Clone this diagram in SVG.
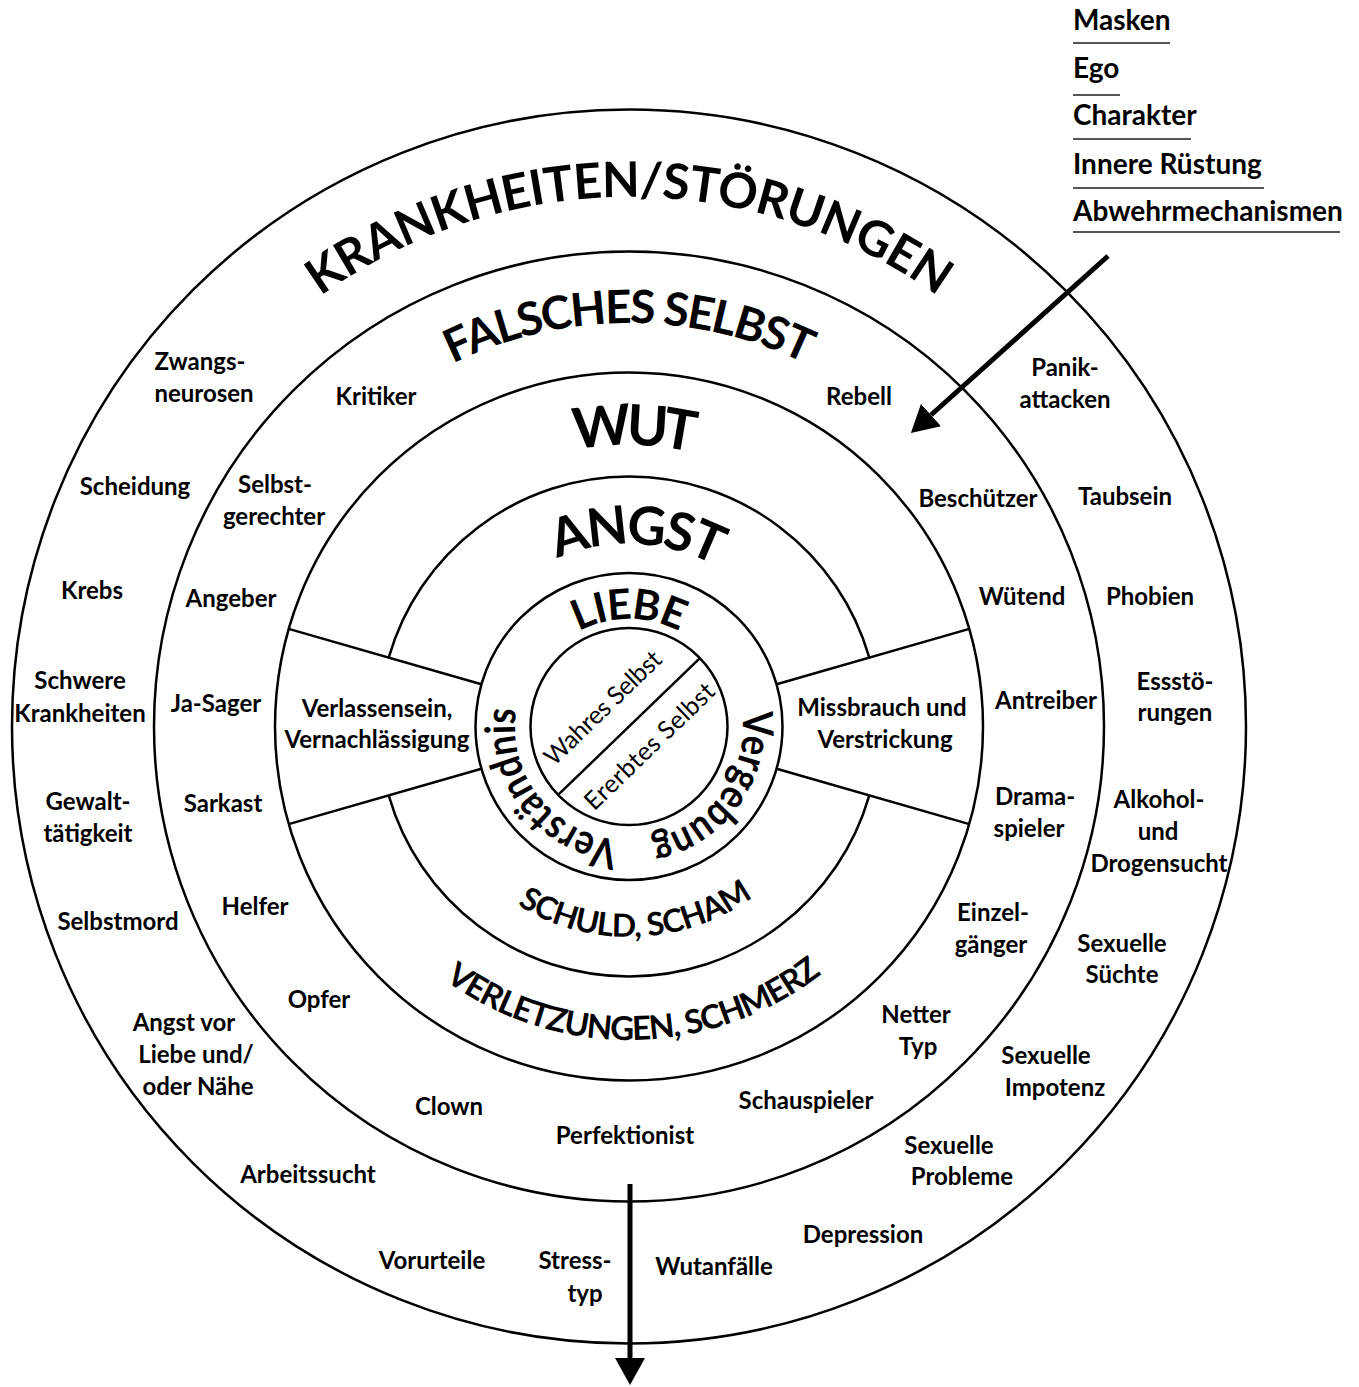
<svg xmlns="http://www.w3.org/2000/svg" width="1359" height="1387" viewBox="0 0 1359 1387">
<style>
.ring{fill:none;stroke:#000;stroke-width:2.5}
.ln{fill:none;stroke:#000;stroke-width:2.5}
text{font-family:Lato,"Noto Sans","DejaVu Sans",sans-serif;fill:#000}
.lb{font-size:24px;font-weight:700;text-anchor:middle}
.hd{font-weight:700;text-anchor:middle}
.leg{font-size:28px;font-weight:700}
.ul{stroke:#555;stroke-width:2}
.thin{font-size:25px;font-weight:400;text-anchor:middle}
.arr{stroke:#000;stroke-width:5;fill:none}
</style>
<defs>
<path id="pK" d="M99.5 726.5 A529.5 529.5 0 0 1 1158.5 726.5"/>
<path id="pF" d="M225.5 726.5 A403.5 403.5 0 0 1 1032.5 726.5"/>
<path id="pW" d="M347.5 726.5 A281.5 281.5 0 0 1 910.5 726.5"/>
<path id="pA" d="M446.5 726.5 A182.5 182.5 0 0 1 811.5 726.5"/>
<path id="pL" d="M521.5 726.5 A107.5 107.5 0 0 1 736.5 726.5"/>
<path id="pS" d="M418.5 726.5 A210.5 210.5 0 0 0 839.5 726.5"/>
<path id="pV" d="M315.5 726.5 A313.5 313.5 0 0 0 942.5 726.5"/>
<path id="pVg" d="M629 612.5 A114 114 0 0 1 629 840.5"/>
<path id="pVs" d="M629 840.5 A114 114 0 0 1 629 612.5"/>
<marker id="ah" markerUnits="userSpaceOnUse" markerWidth="28" markerHeight="30" refX="0" refY="15" orient="auto"><path d="M0,0 L27,15 L0,30 z" fill="#000"/></marker>
</defs>
<rect width="1359" height="1387" fill="#fff"/>

<g id="circles">
<circle class="ring" cx="629" cy="726.5" r="617"/>
<circle class="ring" cx="629" cy="726.5" r="475"/>
<circle class="ring" cx="629" cy="726.5" r="354"/>
<path class="ring" d="M388.7 657.6 A250 250 0 0 1 869.3 657.6"/>
<path class="ring" d="M388.7 795.4 A250 250 0 0 0 869.3 795.4"/>
<circle class="ring" cx="629" cy="726.5" r="153.5"/>
<circle class="ring" cx="629" cy="726.5" r="98.5"/>
<line class="ln" x1="288.7" y1="628.9" x2="481.4" y2="684.2"/>
<line class="ln" x1="288.7" y1="824.1" x2="481.4" y2="768.8"/>
<line class="ln" x1="969.3" y1="628.9" x2="776.6" y2="684.2"/>
<line class="ln" x1="969.3" y1="824.1" x2="776.6" y2="768.8"/>
<line class="ln" x1="558.1" y1="794.9" x2="699.9" y2="658.1"/>
</g>

<g id="ring-titles">
<text class="hd" font-size="49"><textPath href="#pK" startOffset="50%" textLength="659" lengthAdjust="spacing">KRANKHEITEN/STÖRUNGEN</textPath></text>
<text class="hd" font-size="46"><textPath href="#pF" startOffset="50%" textLength="365" lengthAdjust="spacing">FALSCHES SELBST</textPath></text>
<text class="hd" font-size="56" transform="rotate(1 629 726.5)"><textPath href="#pW" startOffset="50%" textLength="120" lengthAdjust="spacing">WUT</textPath></text>
<text class="hd" font-size="53" transform="rotate(2.5 629 726.5)"><textPath href="#pA" startOffset="50%" textLength="164" lengthAdjust="spacing">ANGST</textPath></text>
<text class="hd" font-size="42"><textPath href="#pL" startOffset="50%" textLength="105" lengthAdjust="spacing">LIEBE</textPath></text>
<text class="hd" font-size="32" transform="rotate(-2 629 726.5)"><textPath href="#pS" startOffset="50%" textLength="250" lengthAdjust="spacing">SCHULD, SCHAM</textPath></text>
<text class="hd" font-size="33" transform="rotate(-1 629 726.5)"><textPath href="#pV" startOffset="50%" textLength="405" lengthAdjust="spacing">VERLETZUNGEN, SCHMERZ</textPath></text>
<text class="hd" font-size="42" transform="rotate(36 629 726.5)"><textPath href="#pVg" startOffset="50%" textLength="172" lengthAdjust="spacingAndGlyphs">Vergebung</textPath></text>
<text class="hd" font-size="42" transform="rotate(-38 629 726.5)"><textPath href="#pVs" startOffset="50%" textLength="186" lengthAdjust="spacingAndGlyphs">Verständnis</textPath></text>
</g>

<g id="core" transform="translate(629 726.5) rotate(-44)">
<text class="thin" x="-6" y="-23" textLength="152" lengthAdjust="spacing">Wahres Selbst</text>
<text class="thin" x="1" y="37" textLength="170" lengthAdjust="spacing">Ererbtes Selbst</text>
</g>

<g id="sectors">
<text class="lb"><tspan x="377" y="717">Verlassensein,</tspan><tspan x="377" y="748">Vernachlässigung</tspan></text>
<text class="lb"><tspan x="882" y="716">Missbrauch und</tspan><tspan x="885" y="748">Verstrickung</tspan></text>
</g>

<g id="masks">
<text class="lb" x="376" y="405">Kritiker</text>
<text class="lb" x="859" y="405">Rebell</text>
<text class="lb"><tspan x="275" y="493">Selbst-</tspan><tspan x="274" y="525">gerechter</tspan></text>
<text class="lb" x="978" y="507">Beschützer</text>
<text class="lb" x="231" y="607">Angeber</text>
<text class="lb" x="1022" y="605">Wütend</text>
<text class="lb" x="216" y="712">Ja-Sager</text>
<text class="lb" x="1046" y="709">Antreiber</text>
<text class="lb" x="223" y="812">Sarkast</text>
<text class="lb"><tspan x="1035" y="805">Drama-</tspan><tspan x="1029" y="837">spieler</tspan></text>
<text class="lb" x="255" y="915">Helfer</text>
<text class="lb"><tspan x="993" y="921">Einzel-</tspan><tspan x="991" y="953">gänger</tspan></text>
<text class="lb" x="319" y="1008">Opfer</text>
<text class="lb"><tspan x="916" y="1023">Netter</tspan><tspan x="918" y="1055">Typ</tspan></text>
<text class="lb" x="449" y="1115">Clown</text>
<text class="lb" x="806" y="1109">Schauspieler</text>
<text class="lb" x="625" y="1144">Perfektionist</text>
</g>

<g id="disorders">
<text class="lb"><tspan x="200" y="370">Zwangs-</tspan><tspan x="204" y="402">neurosen</tspan></text>
<text class="lb"><tspan x="1065" y="376">Panik-</tspan><tspan x="1065" y="408">attacken</tspan></text>
<text class="lb" x="135" y="495">Scheidung</text>
<text class="lb" x="1125" y="505">Taubsein</text>
<text class="lb" x="92" y="599">Krebs</text>
<text class="lb" x="1150" y="605">Phobien</text>
<text class="lb"><tspan x="80" y="689">Schwere</tspan><tspan x="80" y="722">Krankheiten</tspan></text>
<text class="lb"><tspan x="1175" y="690">Essstö-</tspan><tspan x="1175" y="721">rungen</tspan></text>
<text class="lb"><tspan x="88" y="810">Gewalt-</tspan><tspan x="88" y="842">tätigkeit</tspan></text>
<text class="lb"><tspan x="1159" y="808">Alkohol-</tspan><tspan x="1158" y="840">und</tspan><tspan x="1159" y="872">Drogensucht</tspan></text>
<text class="lb" x="118" y="930">Selbstmord</text>
<text class="lb"><tspan x="1122" y="952">Sexuelle</tspan><tspan x="1122" y="983">Süchte</tspan></text>
<text class="lb"><tspan x="184" y="1031">Angst vor</tspan><tspan x="196" y="1063">Liebe und/</tspan><tspan x="198" y="1095">oder Nähe</tspan></text>
<text class="lb"><tspan x="1046" y="1064">Sexuelle</tspan><tspan x="1055" y="1096">Impotenz</tspan></text>
<text class="lb" x="308" y="1183">Arbeitssucht</text>
<text class="lb"><tspan x="949" y="1154">Sexuelle</tspan><tspan x="962" y="1185">Probleme</tspan></text>
<text class="lb" x="432" y="1269">Vorurteile</text>
<text class="lb"><tspan x="575" y="1269">Stress-</tspan><tspan x="585" y="1302">typ</tspan></text>
<text class="lb" x="714" y="1275">Wutanfälle</text>
<text class="lb" x="863" y="1243">Depression</text>
</g>

<g id="legend">
<text class="leg" x="1073" y="30">Masken</text>
<line class="ul" x1="1073" y1="43" x2="1170" y2="43"/>
<text class="leg" x="1073" y="78">Ego</text>
<line class="ul" x1="1073" y1="95" x2="1120" y2="95"/>
<text class="leg" x="1073" y="125">Charakter</text>
<line class="ul" x1="1073" y1="139" x2="1191" y2="139"/>
<text class="leg" x="1073" y="174">Innere Rüstung</text>
<line class="ul" x1="1073" y1="188" x2="1264" y2="188"/>
<text class="leg" x="1073" y="221">Abwehrmechanismen</text>
<line class="ul" x1="1073" y1="232" x2="1340" y2="232"/>
</g>

<g id="connectors">
<line class="arr" x1="1108" y1="256" x2="931" y2="415" marker-end="url(#ah)"/>
<line class="arr" x1="630" y1="1184" x2="630" y2="1358" marker-end="url(#ah)"/>
</g>
</svg>
